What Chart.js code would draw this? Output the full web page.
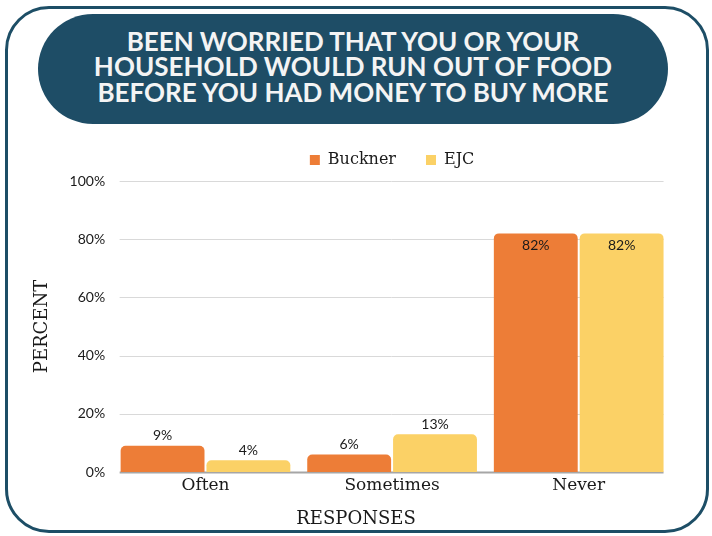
<!DOCTYPE html>
<html>
<head>
<meta charset="utf-8">
<script src="https://cdn.jsdelivr.net/npm/chart.js@4"></script>
<style>
  html, body { margin: 0; padding: 0; background: #fff; }
  #wrap { position: relative; width: 712px; height: 536px; overflow: hidden; }
  #frame {
    position: absolute; left: 5px; top: 6px; width: 698px; height: 521px;
    border: 3px solid #1d4e66; border-radius: 44px;
  }
  #title {
    position: absolute; left: 38px; top: 14px; width: 630px; height: 110px;
    background: #1e4d66; border-radius: 55px; color: #f4f4f4;
    font-family: Lato, "Open Sans", sans-serif; font-weight: 700; font-size: 26px;
    line-height: 25.5px; text-align: center; display: flex; align-items: center; justify-content: center;
    box-sizing: border-box; padding-bottom: 4px;
  }
  #chartBox { position: absolute; left: 0; top: 0; width: 712px; height: 536px; }
</style>
</head>
<body>
<div id="wrap">
  <div id="frame"></div>
  <div id="title"><div>BEEN WORRIED THAT YOU OR YOUR<br>HOUSEHOLD WOULD RUN OUT OF FOOD<br>BEFORE YOU HAD MONEY TO BUY MORE</div></div>
  <div id="chartBox"><canvas id="chart"></canvas></div>
</div>
<script>
// dữ liệu
const categories = ['Often', 'Sometimes', 'Never'];
const buckner = [9, 6, 82];
const ejc = [4, 13, 82];
const yTicks = [0, 20, 40, 60, 80, 100];
const xTitle = 'RESPONSES';

const serif = '"DejaVu Serif", "Liberation Serif", serif';
const sans = 'Lato, "Open Sans", sans-serif';

// thêm khoảng trống dưới chú thích
const legendGap = {
    id: 'legendGap',
    beforeInit(chart) {
        const fit = chart.legend.fit;
        chart.legend.fit = function () {
            fit.call(this);
            this.height += 3;
        };
    },
    // căn chú thích theo vùng vẽ
    afterLayout(chart) {
        chart.legend.left = chart.chartArea.left;
        chart.legend.right = chart.chartArea.right;
    }
};

// tiêu đề trục X căn giữa toàn khung
const xTitlePlugin = {
    id: 'xTitle',
    afterDraw(chart) {
        const ctx = chart.ctx;
        ctx.save();
        ctx.font = '18px ' + serif;
        ctx.fillStyle = '#1a1a1a';
        ctx.textAlign = 'center';
        ctx.textBaseline = 'middle';
        ctx.fillText(xTitle, chart.width / 2, chart.scales.x.bottom + 20);
        ctx.restore();
    }
};

// vẽ lưới ngang chỉ trong vùng các cột
const gridPlugin = {
    id: 'gridLines',
    beforeDatasetsDraw(chart) {
        const ctx = chart.ctx;
        const y = chart.scales.y;
        const first = chart.getDatasetMeta(0).data[0];
        const last = chart.getDatasetMeta(1).data[2];
        const x0 = first.x - first.width / 2;
        const x1 = last.x + last.width / 2;
        ctx.save();
        yTicks.forEach(v => {
            const py = Math.round(y.getPixelForValue(v)) + 0.5;
            ctx.strokeStyle = v === 0 ? '#a6a6a6' : '#d9d9d9';
            ctx.lineWidth = v === 0 ? 2 : 1;
            ctx.beginPath();
            ctx.moveTo(x0 - 1, py);
            ctx.lineTo(x1, py);
            ctx.stroke();
        });
        ctx.restore();
    }
};

// nhãn giá trị trên các cột
const labelPlugin = {
    id: 'barLabels',
    afterDatasetsDraw(chart) {
        const ctx = chart.ctx;
        ctx.save();
        ctx.font = '14px ' + sans;
        ctx.fillStyle = '#1a1a1a';
        ctx.textAlign = 'center';
        chart.data.datasets.forEach((ds, i) => {
            chart.getDatasetMeta(i).data.forEach((bar, j) => {
                const v = ds.data[j];
                if (v > 50) {
                    ctx.textBaseline = 'top';
                    ctx.fillText(v + '%', bar.x, bar.y + 5);
                } else {
                    ctx.textBaseline = 'bottom';
                    ctx.fillText(v + '%', bar.x, bar.y - 3);
                }
            });
        });
        ctx.restore();
    }
};

new Chart(document.getElementById('chart'), {
    type: 'bar',
    data: {
        labels: categories,
        datasets: [
            { label: 'Buckner', data: buckner, backgroundColor: '#ed7d37', borderRadius: 5 },
            { label: 'EJC', data: ejc, backgroundColor: '#fbd166', borderRadius: 5 }
        ]
    },
    options: {
        responsive: true,
        maintainAspectRatio: false,
        animation: false,
        categoryPercentage: 0.92,
        barPercentage: 0.977,
        layout: { padding: { top: 122, left: 25, right: 40, bottom: 37 } },
        plugins: {
            tooltip: { enabled: false },
            legend: {
                position: 'top',
                labels: {
                    font: { family: serif, size: 16 },
                    color: '#1a1a1a',
                    boxWidth: 10,
                    boxHeight: 10,
                    padding: 30
                }
            }
        },
        scales: {
            x: {
                grid: { display: false, drawTicks: false },
                border: { display: false },
                ticks: { font: { family: serif, size: 17, lineHeight: 1 }, color: '#1a1a1a', padding: 5 }
            },
            y: {
                min: 0,
                max: 100,
                afterBuildTicks: axis => { axis.ticks = yTicks.map(v => ({ value: v })); },
                grid: { display: false, drawTicks: false },
                border: { display: false },
                ticks: {
                    font: { family: sans, size: 14 },
                    color: '#1a1a1a',
                    padding: 7,
                    callback: value => value + '%'
                },
                title: { display: true, text: 'PERCENT', font: { family: serif, size: 18 }, color: '#1a1a1a', padding: { top: 7, bottom: 9 } }
            }
        }
    },
    plugins: [legendGap, gridPlugin, labelPlugin, xTitlePlugin]
});
</script>
</body>
</html>
